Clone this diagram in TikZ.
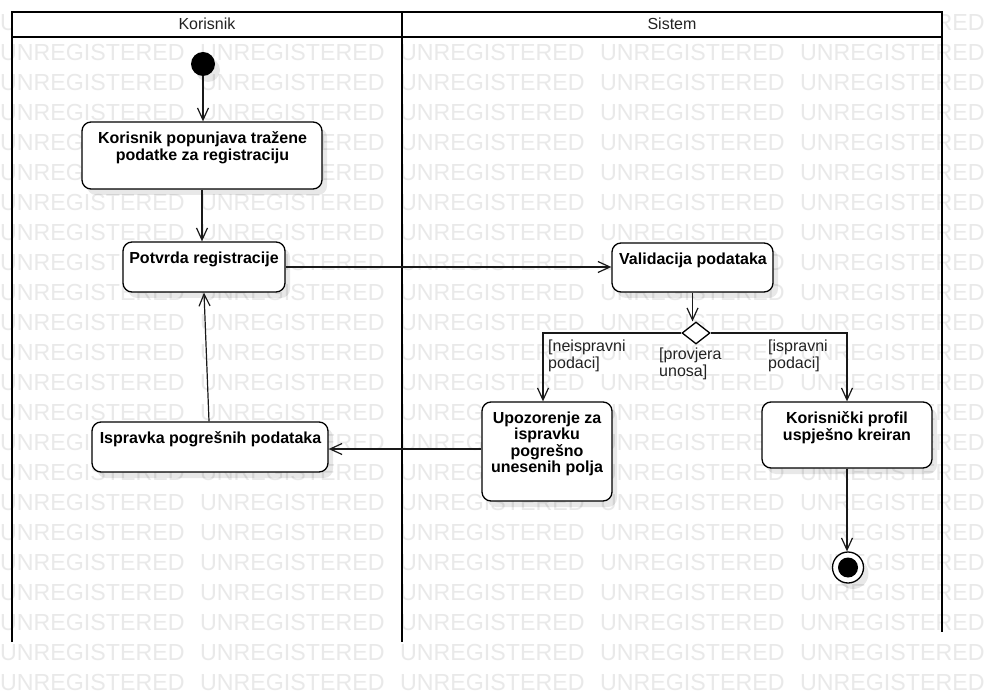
\documentclass[tikz,border=0pt]{standalone}
\usepackage{fontspec}
\setmainfont{Liberation Sans}
\usetikzlibrary{arrows.meta,shapes.geometric,shadows,calc}
\definecolor{wm}{RGB}{233,233,233}
\definecolor{ink}{RGB}{34,34,34}
\begin{document}
\begin{tikzpicture}[x=1pt,y=-1pt,
  wmtext/.style={anchor=base west, inner sep=0, text=wm, font=\fontsize{23.2}{24}\selectfont},
  lane/.style={line width=2.5pt, draw=black},
  shad/.style={drop shadow={shadow xshift=5pt, shadow yshift=-6pt, opacity=0.09, fill=black}},
  act/.style={draw=black, line width=1.3pt, rounded corners=9pt, fill=white, shad, inner sep=0},
  acttext/.style={anchor=north, align=center, inner sep=0, text=black, font=\bfseries\fontsize{16}{16.5}\selectfont},
  hdr/.style={anchor=base, inner sep=0, text=ink, font=\fontsize{16}{16.5}\selectfont},
  lbl/.style={anchor=north west, inner sep=0, align=left, text=ink, font=\fontsize{16}{16.5}\selectfont},
  conn/.style={draw=black!90, line width=1.2pt, -{Straight Barb[length=12pt,width=11pt]}},
  line/.style={draw=black!90, line width=1.2pt}
]
\useasboundingbox (0,0) rectangle (992,692);
\fill[white] (0,0) rectangle (992,692);
% watermark
\begin{scope}
\clip (0,0) rectangle (992,692);
\foreach \r in {0,...,22} {
  \foreach \c in {0,...,4} {
    \node[wmtext] (wm-\r-\c) at ({200*\c},{30.5+30*\r}) {UNREGISTERED};
  }
}
\end{scope}
% swimlanes
\fill[white] (12,12) rectangle (942,37);
\draw[lane] (12,642) -- (12,12) -- (942,12) -- (942,632);
\draw[line width=2pt] (12,37) -- (942,37);
\draw[lane] (402,12) -- (402,642);
\node[hdr] (hk) at (207,29.3) {Korisnik};
\node[hdr] (hs) at (672,29.3) {Sistem};

% start / end
\node[circle, fill=black, minimum size=24pt, inner sep=0, shad] (s) at (203,64) {};
\node[circle, draw=black, line width=1.3pt, fill=white, minimum size=31pt, inner sep=0, shad] (e) at (848,567.5) {};
\node[circle, fill=black, minimum size=20pt, inner sep=0] (ei) at (e) {};

% activities
\node[act, minimum width=240pt, minimum height=67pt] (b1) at (202,155.5) {};
\node[acttext] (t1) at (202.5,131.5) {Korisnik popunjava tražene\\podatke za registraciju};
\node[act, minimum width=162pt, minimum height=50pt] (b2) at (204,267) {};
\node[acttext] (t2) at (204,251.5) {Potvrda registracije};
\node[act, minimum width=161pt, minimum height=49pt] (b3) at (692.5,267.5) {};
\node[acttext] (t3) at (693,252.5) {Validacija podataka};
\node[act, minimum width=130pt, minimum height=99pt] (b4) at (547,451.5) {};
\node[acttext] (t4) at (547,411.5) {Upozorenje za\\ispravku\\pogrešno\\unesenih polja};
\node[act, minimum width=170pt, minimum height=66pt] (b5) at (847,435) {};
\node[acttext] (t5) at (847,411.5) {Korisnički profil\\uspješno kreiran};
\node[act, minimum width=236pt, minimum height=50pt] (b6) at (210,447) {};
\node[acttext] (t6) at (210.5,431.5) {Ispravka pogrešnih podataka};

% decision
\node[diamond, draw=black, fill=white, line width=1.3pt, minimum width=28pt, minimum height=22pt, inner sep=0] (d) at (696,333) {};

% labels
\node[lbl] (l1) at (548,340) {[neispravni\\podaci]};
\node[lbl] (l2) at (768,340) {[ispravni\\podaci]};
\node[lbl] (l3) at (659,348) {[provjera\\unosa]};

% connectors
\draw[conn] (s.south) -- (s.south |- b1.north);
\draw[conn] (b1.south) -- (b1.south |- b2.north);
\draw[conn] (b2.east) -- (b2.east -| b3.west);
\draw[conn] (b3.south) -- (b3.south |- d.north);
\draw[conn] (d.west) -| ([xshift=-4pt]b4.north);
\draw[conn] (d.east) -| (b5.north);
\draw[conn] ([yshift=2.5pt]b4.west) -- ([yshift=2.5pt]b4.west -| b6.east);
\draw[conn] ([xshift=-1pt]b6.north) -- (b2.south);
\draw[conn] (b5.south) -- (b5.south |- e.north);
\end{tikzpicture}
\end{document}
